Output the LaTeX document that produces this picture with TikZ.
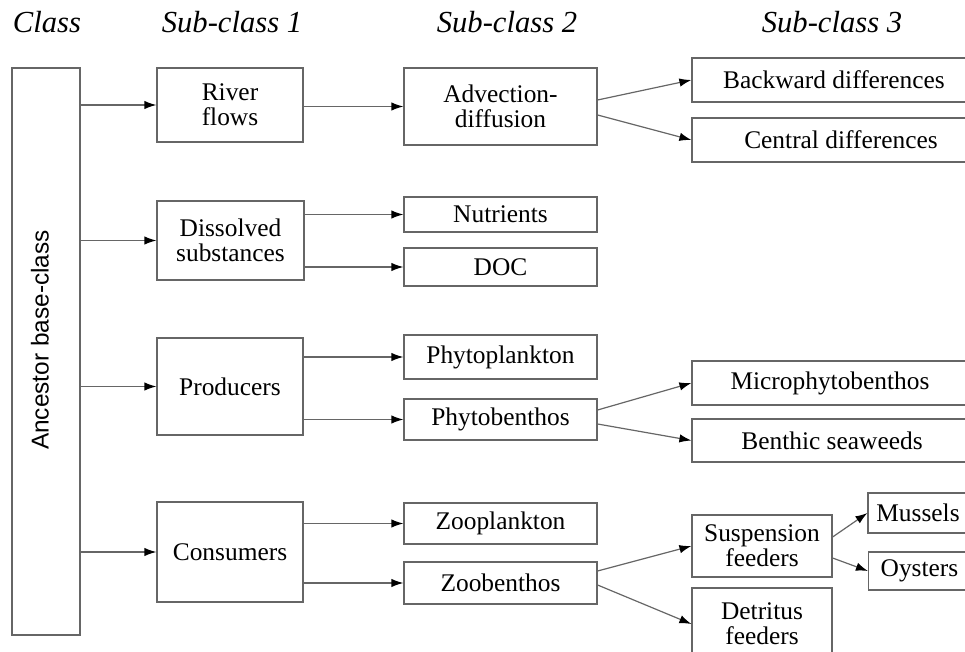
\documentclass[tikz,border=0pt]{standalone}
\usepackage{fontspec}
\setmainfont{Liberation Serif}
\newfontfamily\labelsans{Liberation Sans}
\usetikzlibrary{arrows.meta,calc}

\begin{document}
\begin{tikzpicture}[
  x=0.5pt, y=-0.5pt,
  box/.style={draw=black!60, line width=0.6pt, rectangle, inner sep=0pt,
              align=center, font=\fontsize{12.7}{12.5}\selectfont},
  head/.style={font=\fontsize{15.3}{16}\selectfont\itshape, anchor=base, inner sep=0pt},
  arr/.style={draw=black!60, line width=0.6pt,
              -{Latex[length=6pt,width=4.2pt,fill=black,color=black]}}
]
\useasboundingbox (0,0) rectangle (965,652);

% column headings
\node[head] (hclass) at (47,33)  {Class};
\node[head] (hsub1)  at (232,33) {Sub-class 1};
\node[head] (hsub2)  at (507,33) {Sub-class 2};
\node[head] (hsub3)  at (832,33) {Sub-class 3};

% ancestor class
\node[box, minimum width=34pt, minimum height=283.5pt] (anc) at (46,351.5) {};
\node[rotate=90, inner sep=0pt, font=\labelsans\fontsize{12.2}{13}\selectfont]
  (anclabel) at (40,340) {Ancestor base-class};

% sub-class 1
\node[box, minimum width=73pt,   minimum height=37pt]   (river)     at (230,105)     {River\\flows};
\node[box, minimum width=73.5pt, minimum height=39.5pt] (dissolved) at (230.5,240.5) {Dissolved\\substances};
\node[box, minimum width=73pt,   minimum height=48.5pt] (producers) at (230,386.5)   {Producers};
\node[box, minimum width=73pt,   minimum height=50pt]   (consumers) at (230,552)     {Consumers};

% sub-class 2
\node[box, minimum width=96.5pt, minimum height=38.5pt] (advection) at (500.5,106.5) {Advection-\\diffusion};
\node[box, minimum width=96.5pt, minimum height=17.5pt] (nutrients) at (500.5,214.5) {Nutrients};
\node[box, minimum width=96.5pt, minimum height=19pt]   (doc)       at (500.5,267)   {DOC};
\node[box, minimum width=96.5pt, minimum height=22pt]   (phytopl)   at (500.5,357)   {Phytoplankton};
\node[box, minimum width=96.5pt, minimum height=20.5pt] (phytob)    at (500.5,419.5) {Phytobenthos};
\node[box, minimum width=96.5pt, minimum height=20.5pt] (zoopl)     at (500.5,523.5) {Zooplankton};
\node[box, minimum width=96.5pt, minimum height=21pt]   (zoob)      at (500.5,583)   {Zoobenthos};

% sub-class 3
\node[box, minimum width=142pt, minimum height=22pt]   (backward)   at (834,80)    {Backward differences};
\node[box, minimum width=149pt, minimum height=22pt]   (central)    at (841,140)   {Central differences};
\node[box, minimum width=138pt, minimum height=22pt]   (micro)      at (830,383)   {Microphytobenthos};
\node[box, minimum width=140pt, minimum height=21.5pt] (benthic)    at (832,440.5) {Benthic seaweeds};
\node[box, minimum width=70pt,  minimum height=31pt]   (suspension) at (762,546)   {Suspension\\feeders};
\node[box, minimum width=70pt,  minimum height=36pt]   (detritus)   at (762,624)   {Detritus\\feeders};
\node[box, minimum width=50pt,  minimum height=20pt]   (mussels)    at (918,513)   {Mussels};
\node[box, minimum width=51pt,  minimum height=19pt]   (oysters)    at (919.5,571) {Oysters};

% class -> sub-class 1
\draw[arr] (anc.east |- river.west)     -- (river.west);
\draw[arr] (anc.east |- dissolved.west) -- (dissolved.west);
\draw[arr] (anc.east |- producers.west) -- (producers.west);
\draw[arr] (anc.east |- consumers.west) -- (consumers.west);

% sub-class 1 -> sub-class 2
\draw[arr] (river.east |- advection.west)     -- (advection.west);
\draw[arr] (dissolved.east |- nutrients.west) -- (nutrients.west);
\draw[arr] (dissolved.east |- doc.west)       -- (doc.west);
\draw[arr] (producers.east |- phytopl.west)   -- (phytopl.west);
\draw[arr] (producers.east |- phytob.west)    -- (phytob.west);
\draw[arr] (consumers.east |- zoopl.west)     -- (zoopl.west);
\draw[arr] (consumers.east |- zoob.west)      -- (zoob.west);

% sub-class 2 -> sub-class 3
\draw[arr] ($(advection.east)+(0,-6.5)$) -- (backward.west);
\draw[arr] ($(advection.east)+(0,8.5)$)  -- (central.west);
\draw[arr] ($(phytob.east)+(0,-9.5)$)    -- (micro.west);
\draw[arr] ($(phytob.east)+(0,4.5)$)     -- (benthic.west);
\draw[arr] ($(zoob.east)+(0,-12)$)       -- (suspension.west);
\draw[arr] ($(zoob.east)+(0,2)$)         -- (detritus.west);
\draw[arr] ($(suspension.east)+(0,-9)$)  -- (mussels.west);
\draw[arr] ($(suspension.east)+(0,12)$)  -- (oysters.west);
\end{tikzpicture}
\end{document}
